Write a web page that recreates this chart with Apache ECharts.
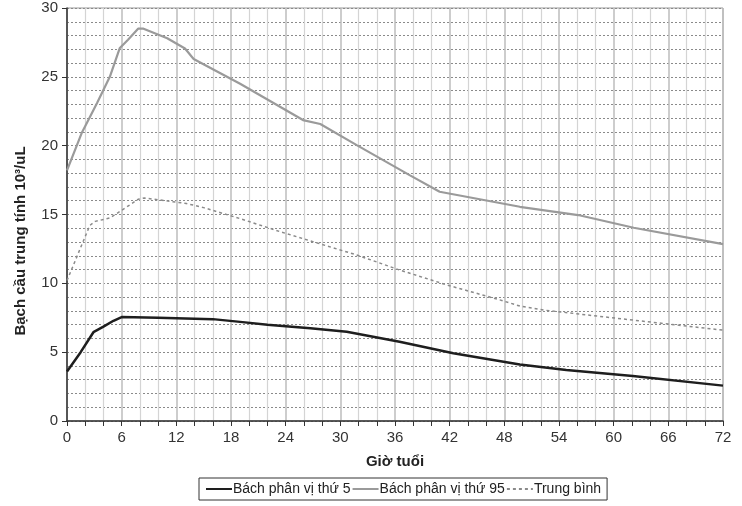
<!DOCTYPE html>
<html><head><meta charset="utf-8">
<script src="https://cdn.jsdelivr.net/npm/echarts@6/dist/echarts.min.js"></script>
<style>html,body{margin:0;padding:0;background:#fff}#c{width:742px;height:506px}</style>
</head><body><div id="c"></div>
<script>
const xTicks = [0,6,12,18,24,30,36,42,48,54,60,66,72];
const yTicks = [0,5,10,15,20,25,30];
const seriesNames = ['Bách phân vị thứ 5','Bách phân vị thứ 95','Trung bình'];
const hours5 = [0,1.5,2.9,4,5.1,6,10,16,19,22,26.7,30.7,36.5,42.4,49.7,54.8,62.1,72];
const p5 =     [3.6,5.0,6.45,6.85,7.28,7.55,7.5,7.4,7.2,7.0,6.73,6.49,5.76,4.92,4.1,3.7,3.27,2.57];
const hours95 = [0,1.6,3.3,4.7,5.8,6.7,7.8,8.4,11,12.95,13.9,19,25.9,27.8,31.8,37.6,40.9,49.7,56.1,62.2,72];
const p95 =     [18.2,20.9,23.1,25.0,27.1,27.7,28.5,28.5,27.8,27.06,26.3,24.5,21.86,21.57,20.04,17.86,16.65,15.56,14.96,14.04,12.85];
const hoursMean = [0,2.5,3.1,4.7,6,7.8,8.5,13.1,15,19,23.4,31.8,36.5,41.7,47.5,49.7,52.3,64.7,72];
const mean =      [10.2,14.2,14.5,14.75,15.3,16.1,16.2,15.8,15.5,14.7,13.75,12.06,10.97,9.88,8.8,8.35,8.06,7.14,6.6];
const yName = 'Bạch cầu trung tính 10³/uL';
const xName = 'Giờ tuổi';

const pair = (xs, ys) => xs.map((x, i) => [x, ys[i]]);
const font = '"Liberation Sans", Arial, sans-serif';
const chart = echarts.init(document.getElementById('c'), null, {renderer: 'canvas'});
chart.setOption({
  animation: false,
  backgroundColor: '#fff',
  grid: {left: 67, right: 19, top: 8, bottom: 85, show: true, borderColor: '#999', borderWidth: 1},
  graphic: [{
    type: 'text', x: 21, y: 241, rotation: Math.PI / 2,
    style: {text: yName, fontFamily: font, fontWeight: 'bold', fontSize: 15, fill: '#222',
      align: 'center', verticalAlign: 'middle'}
  }],
  legend: {
    bottom: 6, left: 199,
    data: seriesNames,
    itemWidth: 26, itemHeight: 10, itemGap: 1,
    itemStyle: {opacity: 0},
    borderColor: '#333', borderWidth: 1, padding: [4, 6],
    textStyle: {fontFamily: '"Liberation Sans Narrow", "Liberation Sans", sans-serif', fontSize: 14, color: '#222', padding: [0, 0, 0, -4]}
  },
  xAxis: {
    type: 'value', min: 0, max: 72, interval: 6,
    name: xName, nameLocation: 'middle', nameGap: 33,
    nameTextStyle: {fontFamily: font, fontWeight: 'bold', fontSize: 15, color: '#222'},
    axisLine: {show: true, onZero: false, lineStyle: {color: '#333', width: 1.5}},
    axisTick: {show: true, length: 5, lineStyle: {color: '#333'}},
    minorTick: {show: true, splitNumber: 3, length: 5, lineStyle: {color: '#333'}},
    axisLabel: {fontFamily: font, fontSize: 15, color: '#333', margin: 9,
      formatter: v => xTicks.includes(v) ? String(v) : ''},
    splitLine: {show: true, lineStyle: {color: '#bdbdbd', width: 1.5}},
    minorSplitLine: {show: true, lineStyle: {color: '#d4d4d4', width: 1.2}}
  },
  yAxis: {
    type: 'value', min: 0, max: 30, interval: 5,
    axisLine: {show: true, lineStyle: {color: '#333', width: 1.5}},
    axisTick: {show: true, length: 5, lineStyle: {color: '#333'}},
    axisLabel: {fontFamily: font, fontSize: 15, color: '#333', margin: 9,
      formatter: v => yTicks.includes(v) ? String(v) : ''},
    splitLine: {show: true, lineStyle: {color: '#8a8a8a', width: 1, type: [2, 2]}},
    minorTick: {show: false, splitNumber: 5},
    minorSplitLine: {show: true, lineStyle: {color: '#8a8a8a', width: 1, type: [2, 2]}}
  },
  series: [
    {name: seriesNames[0], type: 'line', data: pair(hours5, p5), symbol: 'none',
     lineStyle: {color: '#1e1e1e', width: 2.5}, itemStyle: {color: '#1e1e1e'}, z: 5},
    {name: seriesNames[1], type: 'line', data: pair(hours95, p95), symbol: 'none',
     lineStyle: {color: '#9a9a9a', width: 2.2}, itemStyle: {color: '#9a9a9a'}, z: 4},
    {name: seriesNames[2], type: 'line', data: pair(hoursMean, mean), symbol: 'none',
     lineStyle: {color: '#8a8a8a', width: 1.5, type: [3, 3]}, itemStyle: {color: '#8a8a8a'}, z: 3}
  ]
});
</script></body></html>
